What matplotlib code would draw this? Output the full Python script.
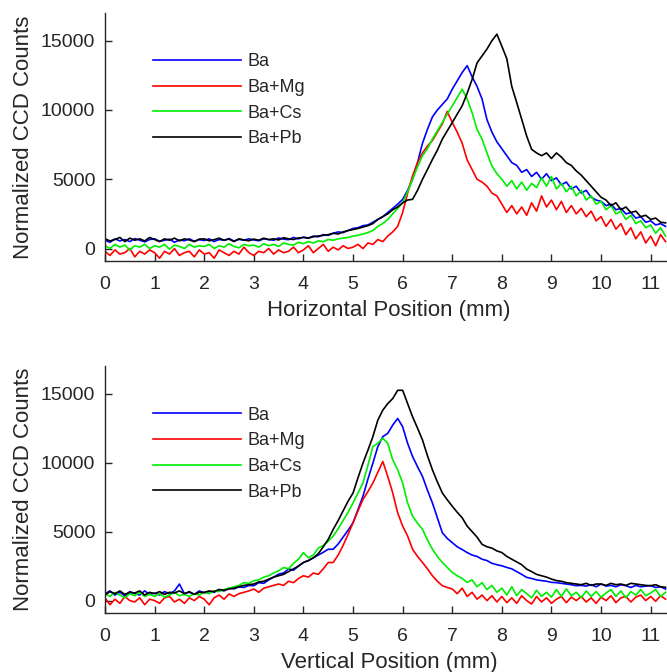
import numpy as np
import matplotlib
matplotlib.use("Agg")
import matplotlib.pyplot as plt

plt.rcParams['font.family'] = ['Liberation Sans', 'DejaVu Sans']

series_names = ["Ba", "Ba+Mg", "Ba+Cs", "Ba+Pb"]
series_colors = ["#0000ff", "#ff0000", "#00ee00", "#000000"]
xticks = [0, 1, 2, 3, 4, 5, 6, 7, 8, 9, 10, 11]
yticks = [0, 5000, 10000, 15000]

# ---------------- Horizontal profile (top) ----------------
h_ba = [600, 450, 700, 550, 650, 500, 720, 600, 480, 650,
        700, 520, 600, 680, 450, 620, 560, 700, 520, 640,
        580, 700, 500, 650, 600, 720, 540, 660, 600, 700,
        620, 560, 700, 650, 600, 760, 680, 640, 800, 700,
        820, 760, 900, 850, 1000, 950, 1100, 1200, 1150, 1300,
        1450, 1500, 1650, 1700, 1900, 2100, 2300, 2600, 2900, 3200,
        3550, 4200, 5000, 6200, 7600, 8600, 9500, 10000, 10400, 10800,
        11500, 12100, 12700, 13200, 12400, 11700, 10800, 9300, 8400, 7700,
        7200, 6700, 6200, 6000, 5500, 5700, 5200, 5500, 5000, 5400,
        4900, 5100, 4600, 4800, 4300, 4500, 4000, 4200, 3700, 3500,
        3400, 3100, 3200, 2800, 2900, 2500, 2600, 2200, 2300, 1900,
        2000, 1700, 1800, 1600]
h_mg = [-200, -500, -100, -400, -300, 0, -600, -200, -400, -100,
        -300, -700, -200, -400, 0, -500, -300, -200, -600, -100,
        -400, -300, -700, -100, -300, -500, -200, -400, 100, -300,
        -500, -200, -300, 0, -400, -100, -300, -200, 100, -300,
        -100, 200, -300, 0, 300, -200, 100, -100, 200, 0,
        100, 300, 0, 400, 300, 650, 500, 900, 1200, 1600,
        2600, 4000, 5250, 6200, 6900, 7400, 7800, 8400, 9000, 9900,
        9100, 8400, 7600, 6400, 5700, 5000, 4800, 4500, 4000, 3800,
        3200, 2600, 3100, 2500, 3000, 2400, 3300, 2700, 3800, 3000,
        3500, 2800, 3400, 2600, 3100, 2500, 2900, 2300, 2700, 2000,
        2300, 1600, 2100, 1400, 1800, 1000, 1500, 700, 1200, 400,
        900, 200, 1000, 500]
h_cs = [200, 0, 300, 100, 250, -100, 200, 100, 300, 0,
        200, 100, 300, -50, 250, 150, 0, 300, 100, 200,
        150, 300, 0, 200, 100, 350, 150, 50, 300, 200,
        250, 100, 350, 200, 300, 150, 400, 300, 250, 450,
        350, 500, 400, 550, 500, 650, 600, 700, 750, 800,
        900, 950, 1050, 1150, 1300, 1600, 1800, 2100, 2500, 2900,
        3300, 4100, 5000, 5900, 6700, 7200, 7900, 8500, 9100, 9700,
        10300, 10900, 11500, 10800, 9800, 8600, 7900, 6900, 5950, 5400,
        5000, 4500, 4900, 4300, 4800, 4200, 4700, 4400, 5100, 4500,
        5200, 4300, 4700, 4100, 4500, 3800, 4200, 3500, 3800, 3200,
        3400, 2800, 3100, 2500, 2700, 2100, 2400, 1800, 2000, 1500,
        1700, 1100, 1500, 900]
h_pb = [700, 550, 650, 800, 500, 750, 600, 700, 550, 800,
        650, 500, 700, 600, 750, 550, 700, 620, 500, 680,
        700, 560, 640, 750, 600, 680, 500, 700, 620, 560,
        680, 600, 750, 640, 700, 620, 780, 700, 650, 760,
        800, 750, 850, 900, 950, 1000, 1100, 1050, 1200, 1300,
        1370, 1450, 1550, 1650, 1800, 2100, 2300, 2500, 2800, 3000,
        3300, 3500, 3550, 4200, 5000, 5700, 6430, 7100, 7900, 8500,
        9090, 9700, 10300, 11200, 12200, 13400, 13900, 14400, 15000, 15470,
        14600, 13700, 11700, 10530, 9330, 8120, 7160, 6900, 6700, 6900,
        6500, 6900, 6600, 6200, 6000, 5600, 5300, 4900, 4500, 4100,
        3700, 3500, 3100, 3300, 2800, 3000, 2600, 2700, 2300, 2400,
        2100, 2200, 1900, 1850]

# ---------------- Vertical profile (bottom) ----------------
v_ba = [500, 700, 400, 600, 350, 650, 500, 400, 700, 450,
        550, 400, 650, 500, 700, 1200, 500, 600, 450, 700,
        550, 650, 600, 800, 700, 900, 850, 1000, 950, 1100,
        1080, 1300, 1250, 1500, 1700, 1920, 2000, 2300, 2200, 2500,
        2760, 2900, 3100, 3300, 3500, 3720, 3720, 4100, 4600, 5100,
        5640, 6600, 7560, 8800, 9960, 11160, 11880, 12120, 12720, 13200,
        12600, 11400, 10440, 9700, 9000, 8000, 7080, 6000, 4920, 4500,
        4200, 3900, 3700, 3480, 3300, 3200, 3000, 2900, 2700, 2600,
        2520, 2400, 2300, 2100, 1900, 1680, 1600, 1500, 1450, 1400,
        1320, 1300, 1250, 1200, 1150, 1080, 1100, 1050, 1150, 1000,
        1200, 1050, 1100, 1000, 1150, 1080, 950, 1100, 1000, 1050,
        1080, 950, 1000, 840]
v_mg = [200, -300, 100, -200, 300, 0, -100, 200, -300, 100,
        0, -200, 200, 300, -100, 100, -200, 200, 0, 300,
        100, -300, 200, 400, 100, 480, 300, 500, 600, 700,
        840, 600, 900, 1000, 1100, 1200, 1100, 1400, 1300, 1600,
        1800, 1700, 2000, 1900, 2300, 2760, 2760, 3300, 4000, 4800,
        5640, 6500, 7320, 7900, 8520, 9300, 10080, 9000, 7800, 6360,
        5400, 4680, 3720, 3200, 2760, 2300, 1800, 1400, 1080, 950,
        840, 500, 900, 300, 600, 100, 400, 0, 350, -100,
        300, -150, 200, -200, 350, 0, -250, 300, -100, 200,
        -200, 100, 300, -150, 250, 0, 300, -100, 200, -200,
        250, 0, 350, -150, 200, 300, -100, 250, 400, 0,
        300, -50, 350, 100]
v_cs = [500, 300, 600, 400, 200, 500, 350, 600, 300, 450,
        300, 500, 250, 400, 600, 350, 450, 300, 500, 400,
        600, 500, 700, 650, 800, 900, 1000, 1100, 1300, 1250,
        1440, 1500, 1700, 1800, 2000, 2160, 2400, 2300, 2700, 3000,
        3480, 3100, 3300, 3800, 4000, 4300, 4680, 5200, 5800, 6400,
        7080, 7800, 8520, 9800, 11160, 11400, 11760, 11400, 10200, 9480,
        8520, 7080, 6120, 5600, 5160, 4400, 3720, 3200, 2760, 2400,
        2040, 1800, 1600, 1320, 1500, 1000, 1300, 800, 1100, 600,
        900, 400, 1000, 350, 800, 500, 200, 750, 300, 600,
        250, 800, 300, 850, 350, 600, 200, 700, 300, 650,
        250, 550, 800, 300, 700, 200, 650, 400, 800, 350,
        550, 800, 300, 600]
v_pb = [400, 650, 500, 700, 450, 600, 550, 700, 400, 600,
        500, 650, 450, 600, 550, 700, 500, 650, 450, 600,
        600, 700, 650, 800, 750, 840, 900, 1000, 1100, 1150,
        1200, 1350, 1400, 1550, 1700, 1800, 1900, 2100, 2300, 2500,
        2760, 2900, 3100, 3400, 3900, 4440, 5160, 5800, 6500, 7200,
        7800, 8900, 9960, 10900, 11880, 13080, 13800, 14280, 14640, 15240,
        15240, 14280, 13320, 12500, 11640, 10500, 9480, 8600, 7800, 7300,
        6840, 6400, 6000, 5400, 5000, 4600, 4080, 3900, 3800, 3600,
        3480, 3200, 3000, 2800, 2600, 2280, 2100, 1900, 1800, 1700,
        1560, 1450, 1400, 1300, 1250, 1200, 1150, 1250, 1100, 1200,
        1200, 1100, 1250, 1150, 1200, 1100, 1250, 1200, 1150, 1100,
        1080, 1150, 1000, 960]

x_mm = np.round(np.arange(len(h_ba)) * 0.1, 1)

W, H = 667, 672
fig = plt.figure(figsize=(W / 100, H / 100), dpi=100)

def px_axes(left, top, right, bottom):
    return fig.add_axes([left / W, 1 - bottom / H, (right - left) / W, (bottom - top) / H])

panels = [
    (px_axes(105, 13, 673, 261), [h_ba, h_mg, h_cs, h_pb], "Horizontal Position (mm)", 0.838),
    (px_axes(105, 366, 673, 613), [v_ba, v_mg, v_cs, v_pb], "Vertical Position (mm)", 0.836),
]

dark = "#262626"
for ax, data, xlabel, legy in panels:
    for name, col, ys in zip(series_names, series_colors, data):
        ax.plot(x_mm, ys, color=col, lw=1.2, label=name)
    ax.set_xlim(0, 11.45)
    ax.set_ylim(-900, 17000)
    ax.set_xticks(xticks)
    ax.set_yticks(yticks)
    ax.spines['top'].set_visible(False)
    ax.spines['right'].set_visible(False)
    for s in ('left', 'bottom'):
        ax.spines[s].set_color(dark)
        ax.spines[s].set_linewidth(1.0)
    ax.tick_params(direction='in', length=5, width=1.0, colors=dark, labelsize=14)
    ax.tick_params(axis='x', pad=11)
    ax.tick_params(axis='y', pad=7)
    ax.set_xlabel(xlabel, fontsize=16, color=dark, labelpad=5)
    ax.set_ylabel("Normalized CCD Counts", fontsize=16, color=dark, labelpad=5)
    leg = ax.legend(loc='upper left', bbox_to_anchor=(0.0845, legy), frameon=False,
                    fontsize=13, handlelength=4.9, handletextpad=0.35,
                    labelspacing=0.48, borderpad=0, borderaxespad=0)
    for t in leg.get_texts():
        t.set_color(dark)

fig.savefig("out.png", dpi=100)
